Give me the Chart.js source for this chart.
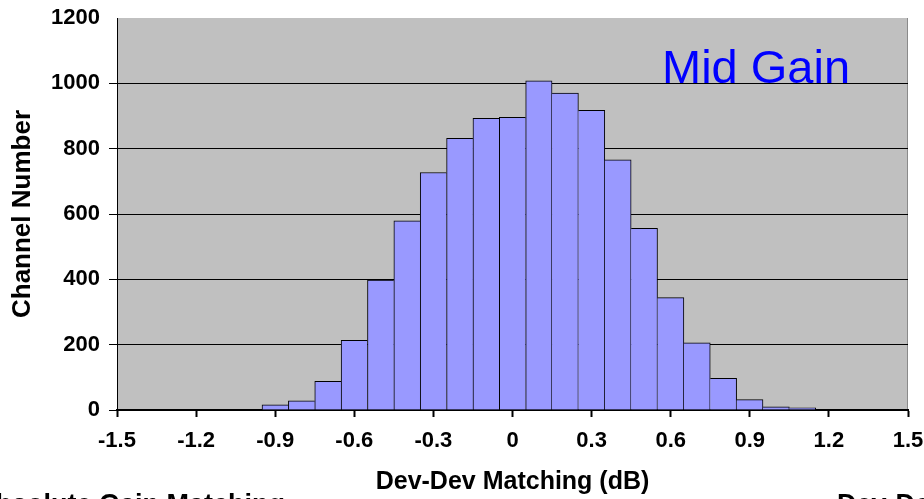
<!DOCTYPE html>
<html>
<head>
<meta charset="utf-8">
<script src="https://cdn.jsdelivr.net/npm/chart.js@4.4.1/dist/chart.umd.min.js"></script>
<style>
  html, body { margin: 0; padding: 0; background: #ffffff; overflow: hidden; }
  #wrap { position: relative; width: 924px; height: 499px; }
</style>
</head>
<body>
<div id="wrap"><canvas id="c" width="924" height="499"></canvas></div>
<script>
// ---- data ----
const binCenters = [-0.9, -0.8, -0.7, -0.6, -0.5, -0.4, -0.3, -0.2, -0.1, 0.0, 0.1, 0.2, 0.3, 0.4, 0.5, 0.6, 0.7, 0.8, 0.9, 1.0, 1.1];
const channelCounts = [16, 28, 88, 213, 398, 579, 727, 832, 893, 896, 1008, 970, 917, 766, 556, 344, 206, 97, 32, 10, 7];
const xTickRange = { min: -1.5, max: 1.5, step: 0.3 };
const yTickRange = { min: 0, max: 1200, step: 200 };
const xTitle = 'Dev-Dev Matching (dB)';
const yTitle = 'Channel Number';
const annotation = 'Mid Gain';
const footerLeft = 'Absolute Gain Matching';
const footerRight = 'Dev-Dev Gain Matching';

const FONT = "'Liberation Sans', Arial, Helvetica, sans-serif";

const decorPlugin = {
  id: 'decor',
  beforeDraw(chart) {
    const { ctx, chartArea: a } = chart;
    ctx.save();
    ctx.fillStyle = '#c0c0c0';
    ctx.fillRect(a.left, a.top, a.right - a.left, a.bottom - a.top);
    ctx.strokeStyle = '#8a8a8a';
    ctx.lineWidth = 1;
    ctx.beginPath();
    ctx.moveTo(a.right - 0.5, a.top);
    ctx.lineTo(a.right - 0.5, a.bottom);
    ctx.stroke();
    ctx.restore();
  },
  afterDraw(chart) {
    const { ctx } = chart;
    ctx.save();
    ctx.textBaseline = 'alphabetic';
    ctx.textAlign = 'left';
    ctx.fillStyle = '#0000ff';
    ctx.font = "47px " + FONT;
    ctx.fillText(annotation, 662, 83);
    ctx.fillStyle = '#000000';
    ctx.font = "bold 27px " + FONT;
    ctx.fillText(footerLeft, -24, 513);
    ctx.fillText(footerRight, 837, 513);
    ctx.restore();
  }
};

const lastIdx = channelCounts.length - 1;

new Chart(document.getElementById('c'), {
  type: 'bar',
  data: {
    datasets: [{
      data: binCenters.map((x, i) => ({ x: x, y: channelCounts[i] })),
      backgroundColor: '#9999ff',
      borderColor: '#000000',
      borderWidth: (ctx) => {
        const i = ctx.dataIndex;
        const v = channelCounts[i];
        const left = (i === 0 || v >= channelCounts[i - 1]) ? 1 : 0;
        const right = (i === lastIdx || v > channelCounts[i + 1]) ? 1 : 0;
        return { top: 1, left: left, right: right, bottom: 0 };
      },
      barPercentage: 1.0,
      categoryPercentage: 1.0
    }]
  },
  options: {
    responsive: false,
    animation: false,
    events: [],
    layout: { padding: { top: 18, right: 16, bottom: 0, left: 0 } },
    plugins: {
      legend: { display: false },
      tooltip: { enabled: false },
      title: { display: false }
    },
    scales: {
      x: {
        type: 'linear',
        offset: false,
        min: xTickRange.min,
        max: xTickRange.max,
        ticks: {
          stepSize: xTickRange.step,
          color: '#000000',
          font: { family: FONT, size: 22, weight: 'bold' },
          padding: 11,
          maxRotation: 0,
          autoSkip: false,
          callback: (v) => String(Math.round(v * 10) / 10)
        },
        grid: {
          offset: false,
          drawOnChartArea: false,
          drawTicks: true,
          tickLength: 7,
          tickWidth: 2,
          tickColor: '#000000'
        },
        border: { display: true, color: '#000000', width: 2 },
        title: {
          display: true,
          text: xTitle,
          color: '#000000',
          font: { family: FONT, size: 25, weight: 'bold' },
          padding: { top: 0, bottom: 2 }
        },
        afterFit(scale) {
          scale.height = 89;
          scale.paddingLeft = 0;
          scale.paddingRight = 0;
        }
      },
      y: {
        min: yTickRange.min,
        max: yTickRange.max,
        ticks: {
          stepSize: yTickRange.step,
          color: '#000000',
          font: { family: FONT, size: 22, weight: 'bold' },
          padding: 9,
          callback: (v) => String(v)
        },
        grid: {
          color: (ctx) => (ctx.tick && ctx.tick.value > yTickRange.min && ctx.tick.value < yTickRange.max) ? '#000000' : 'rgba(0,0,0,0)',
          lineWidth: 1,
          drawTicks: true,
          tickLength: 8,
          tickWidth: 1,
          tickColor: (ctx) => (ctx.tick && ctx.tick.value < yTickRange.max) ? '#000000' : 'rgba(0,0,0,0)'
        },
        border: { display: true, color: '#000000', width: 1 },
        title: {
          display: true,
          text: yTitle,
          color: '#000000',
          font: { family: FONT, size: 26, weight: 'bold' },
          padding: { top: 7, bottom: 0 }
        },
        afterFit(scale) {
          scale.width = 117;
          scale.paddingTop = 0;
          scale.paddingBottom = 0;
        }
      }
    }
  },
  plugins: [decorPlugin]
});
</script>
</body>
</html>
